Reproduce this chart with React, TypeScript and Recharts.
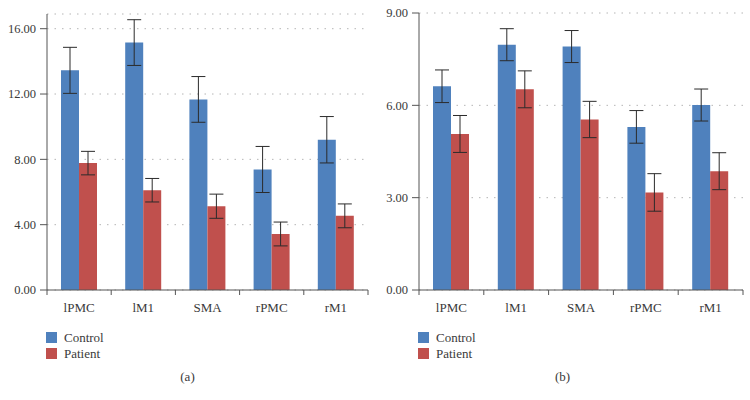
import React from 'react'
import { Bar, BarChart, CartesianGrid, ErrorBar, XAxis, YAxis } from 'recharts'

const regions = ['lPMC', 'lM1', 'SMA', 'rPMC', 'rM1']

const leftControl = [13.45, 15.15, 11.67, 7.38, 9.2]
const leftControlErr = [1.41, 1.4, 1.4, 1.41, 1.42]
const leftPatient = [7.77, 6.11, 5.13, 3.43, 4.54]
const leftPatientErr = [0.72, 0.72, 0.74, 0.73, 0.73]

const rightControl = [6.62, 7.97, 7.91, 5.3, 6.01]
const rightControlErr = [0.53, 0.52, 0.52, 0.53, 0.52]
const rightPatient = [5.07, 6.52, 5.54, 3.17, 3.86]
const rightPatientErr = [0.6, 0.6, 0.59, 0.61, 0.6]

const leftTicks = [0, 4, 8, 12, 16]
const rightTicks = [0, 3, 6, 9]

const series = [
  { name: 'Control', color: '#4f81bd' },
  { name: 'Patient', color: '#c0504d' },
]

const font = '"Times New Roman", "Liberation Serif", "DejaVu Serif", serif'
const axisColor = '#555'
const textColor = '#3a3a3a'

// category label plus a tick mark on the band's left edge (and right edge for the last band)
function RegionTick(props: any) {
  const { x, y, payload, index, visibleTicksCount } = props
  const half = payload.offset || 0
  const last = index === visibleTicksCount - 1
  return (
    <g>
      <line x1={x - half} y1={y} x2={x - half} y2={y + 5} stroke={axisColor} />
      {last && <line x1={x + half} y1={y} x2={x + half} y2={y + 5} stroke={axisColor} />}
      <text x={x} y={y + 13} dy="0.71em" textAnchor="middle" fontFamily={font} fontSize={13} fill={textColor}>
        {payload.value}
      </text>
    </g>
  )
}

function ValueTick(props: any) {
  const { x, y, payload } = props
  return (
    <text x={x} y={y} dy="0.355em" textAnchor="end" fontFamily={font} fontSize={12.5} fill={textColor}>
      {Number(payload.value).toFixed(2)}
    </text>
  )
}

type PanelProps = {
  control: number[]
  controlErr: number[]
  patient: number[]
  patientErr: number[]
  ticks: number[]
  domainMax: number
  yWidth: number
  top: number
  left: number
  caption: string
}

function Panel(props: PanelProps) {
  const data = regions.map((r, i) => ({
    region: r,
    control: props.control[i],
    controlErr: props.controlErr[i],
    patient: props.patient[i],
    patientErr: props.patientErr[i],
  }))

  return (
    <div style={{ position: 'absolute', left: props.left, top: 0, width: 375, height: 400 }}>
      <BarChart
        width={375}
        height={320}
        data={data}
        barGap={0}
        barSize={18}
        margin={{ top: props.top, right: 7, left: 0, bottom: 0 }}
      >
        <CartesianGrid
          vertical={false}
          stroke="#b5b5b5"
          strokeDasharray="1.5 6"
        />
        <XAxis
          dataKey="region"
          height={30}
          stroke={axisColor}
          tickLine={false}
          tickSize={0}
          tickMargin={0}
          interval={0}
          tick={<RegionTick />}
        />
        <YAxis
          width={props.yWidth}
          domain={[0, props.domainMax]}
          ticks={props.ticks}
          tickSize={7}
          tickMargin={4}
          stroke={axisColor}
          tick={<ValueTick />}
        />
        <Bar dataKey="control" fill={series[0].color} isAnimationActive={false}>
          <ErrorBar dataKey="controlErr" width={7} stroke="#2b2b2b" strokeWidth={1} />
        </Bar>
        <Bar dataKey="patient" fill={series[1].color} isAnimationActive={false}>
          <ErrorBar dataKey="patientErr" width={7} stroke="#2b2b2b" strokeWidth={1} />
        </Bar>
      </BarChart>
      <svg width={375} height={80} style={{ position: 'absolute', left: 0, top: 320 }}>
        {series.map((s, i) => (
          <g key={s.name}>
            <rect x={props.yWidth - 1} y={12 + i * 16} width={11} height={11} fill={s.color} />
            <text x={props.yWidth + 17} y={22 + i * 16} fontFamily={font} fontSize={13} fill={textColor}>
              {s.name}
            </text>
          </g>
        ))}
        <text x={187.5} y={61} textAnchor="middle" fontFamily={font} fontSize={13} fill={textColor}>
          {props.caption}
        </text>
      </svg>
    </div>
  )
}

export default function App() {
  return (
    <div style={{ position: 'absolute', left: 0, top: 0, width: 750, height: 400, background: '#fff' }}>
      <Panel
        control={leftControl}
        controlErr={leftControlErr}
        patient={leftPatient}
        patientErr={leftPatientErr}
        ticks={leftTicks}
        domainMax={16.9}
        yWidth={47}
        top={14}
        left={0}
        caption="(a)"
      />
      <Panel
        control={rightControl}
        controlErr={rightControlErr}
        patient={rightPatient}
        patientErr={rightPatientErr}
        ticks={rightTicks}
        domainMax={9}
        yWidth={44}
        top={13}
        left={375}
        caption="(b)"
      />
    </div>
  )
}
